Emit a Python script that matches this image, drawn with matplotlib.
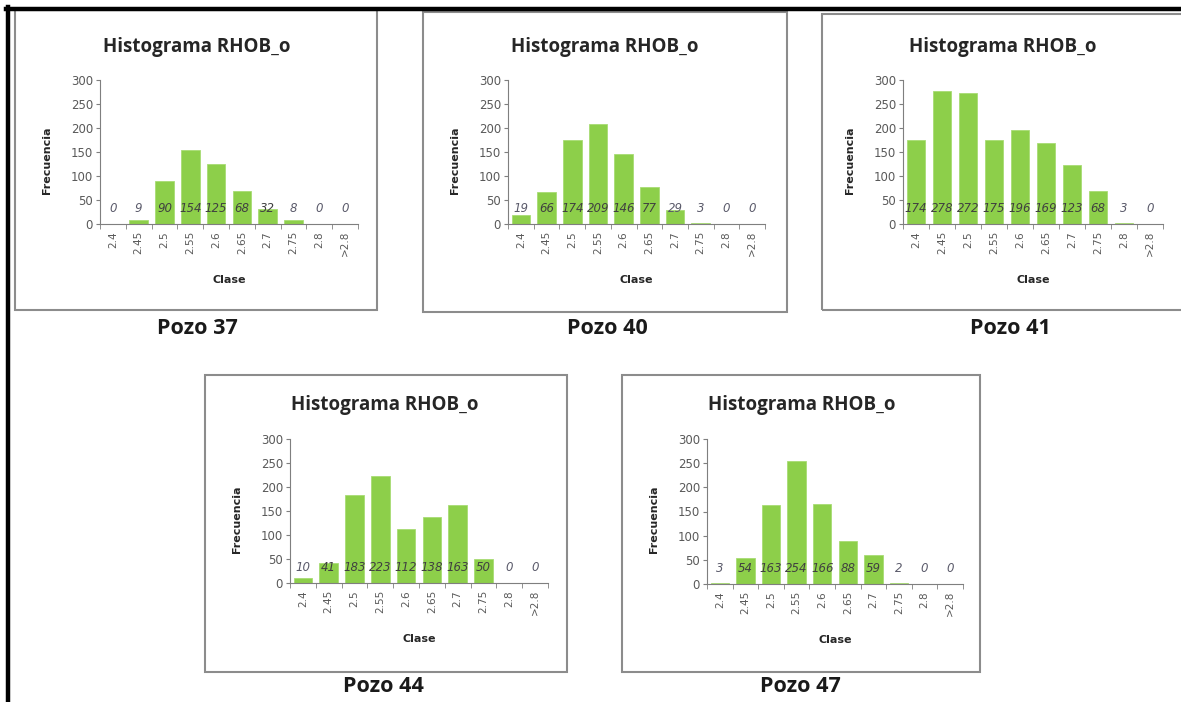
import matplotlib
matplotlib.use("Agg")
import matplotlib.pyplot as plt
from matplotlib.patches import Rectangle
from matplotlib.lines import Line2D

clases = ["2.4", "2.45", "2.5", "2.55", "2.6", "2.65", "2.7", "2.75", "2.8", ">2.8"]

pozo37 = [0, 9, 90, 154, 125, 68, 32, 8, 0, 0]
pozo40 = [19, 66, 174, 209, 146, 77, 29, 3, 0, 0]
pozo41 = [174, 278, 272, 175, 196, 169, 123, 68, 3, 0]
pozo44 = [10, 41, 183, 223, 112, 138, 163, 50, 0, 0]
pozo47 = [3, 54, 163, 254, 166, 88, 59, 2, 0, 0]

nombres = ["Pozo 37", "Pozo 40", "Pozo 41", "Pozo 44", "Pozo 47"]
series = [pozo37, pozo40, pozo41, pozo44, pozo47]

W, H = 1181, 702

# layout in pixels: box, axes (left, top, right, bottom), title, caption
layout = [
    dict(box=(15, 10, 377, 310), ax=(100, 80, 358, 224), title=(197, 47), cap=(197, 328)),
    dict(box=(423, 12, 787, 312), ax=(508, 80, 765, 224), title=(605, 47), cap=(607, 328)),
    dict(box=(822, 14, 1185, 310), ax=(903, 80, 1163, 224), title=(1003, 47), cap=(1010, 328)),
    dict(box=(205, 375, 567, 672), ax=(290, 439, 548, 583), title=(385, 405), cap=(383, 687)),
    dict(box=(622, 375, 980, 672), ax=(707, 439, 963, 584), title=(802, 405), cap=(800, 687)),
]

verde = "#8DCF4A"
gris = "#7f7f7f"
texto = "#595959"


def fx(px):
    return px / W


def fy(py):
    return 1 - py / H


fig = plt.figure(figsize=(W / 100, H / 100), dpi=100)
fig.patch.set_facecolor("white")

# outer black frame (top and left)
fig.add_artist(Line2D([fx(6), fx(W)], [fy(9), fy(9)], color="black", lw=3.2))
fig.add_artist(Line2D([fx(8), fx(8)], [fy(7), fy(H)], color="black", lw=3.2))

for nombre, vals, lay in zip(nombres, series, layout):
    bx0, by0, bx1, by1 = lay["box"]
    fig.add_artist(Rectangle((fx(bx0), fy(by1)), fx(bx1 - bx0), (by1 - by0) / H,
                             fill=False, edgecolor="#8c8c8c", lw=1.5))

    l, t, r, b = lay["ax"]
    ax = fig.add_axes([fx(l), fy(b), fx(r - l), (b - t) / H])
    x = list(range(len(clases)))
    ax.bar(x, vals, width=0.72, color=verde, edgecolor="#a8dc74", linewidth=0.6, zorder=2)
    for i, v in enumerate(vals):
        ax.annotate(str(v), (i, 0), xytext=(0, 11), textcoords="offset points",
                    ha="center", va="center", fontsize=8.5, style="italic",
                    color="#404040" if v > 30 else "#5a5a6a", zorder=3)

    ax.set_xlim(-0.5, len(clases) - 0.5)
    ax.set_ylim(0, 300)
    ax.set_yticks(range(0, 301, 50))
    ax.set_xticks(x)
    ax.set_xticklabels(clases, rotation=90)
    ax.set_xticks([i + 0.5 for i in range(-1, len(clases))], minor=True)
    ax.tick_params(axis="x", which="major", length=0, pad=5, labelsize=7.5, labelcolor=texto)
    ax.tick_params(axis="x", which="minor", length=3.5, color=gris, direction="out")
    ax.tick_params(axis="y", length=3, color=gris, labelsize=8.5, labelcolor=texto, pad=2)
    for s in ["top", "right"]:
        ax.spines[s].set_visible(False)
    for s in ["left", "bottom"]:
        ax.spines[s].set_color(gris)
        ax.spines[s].set_linewidth(0.8)
    ax.patch.set_alpha(0)

    fig.text(fx(lay["title"][0]), fy(lay["title"][1]), "Histograma RHOB_o",
             ha="center", va="center", fontsize=13.5, fontweight="bold",
             family="Open Sans", color="#262626")
    fig.text(fx(l - 53), fy((t + b) / 2 + 8), "Frecuencia", rotation=90,
             ha="center", va="center", fontsize=8, fontweight="bold", color="#262626")
    fig.text(fx((l + r) / 2), fy(b + 56), "Clase", ha="center", va="center",
             fontsize=8, fontweight="bold", color="#262626")
    fig.text(fx(lay["cap"][0]), fy(lay["cap"][1]), nombre, ha="center", va="center",
             fontsize=15.5, fontweight="bold", family="Open Sans", color="#1a1a1a")

fig.savefig("out.png", dpi=100, facecolor="white")
